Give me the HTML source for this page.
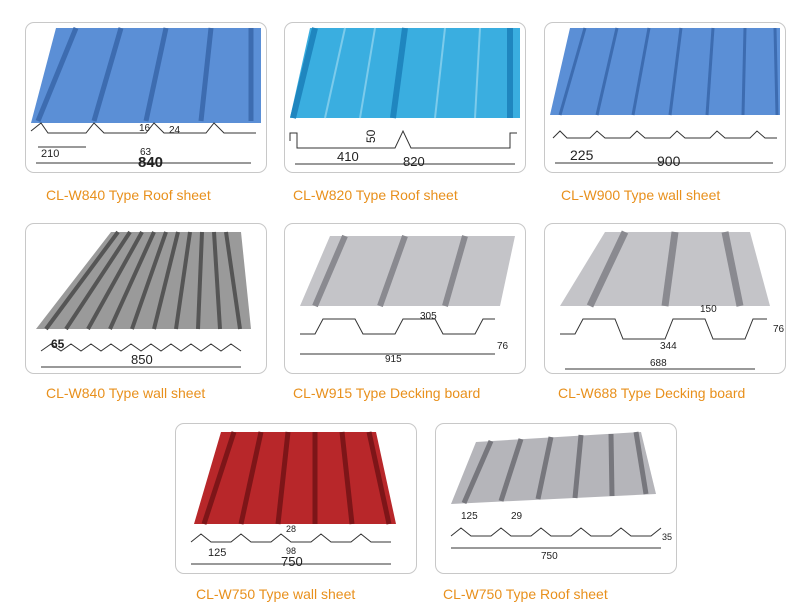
<!DOCTYPE html>
<html><head><meta charset="utf-8"><style>
body{margin:0;width:800px;height:609px;background:#fff;position:relative;overflow:hidden;font-family:"Liberation Sans",sans-serif}
.b{position:absolute;width:240px;height:149px;border:1px solid #c8c8c8;border-radius:9px;background:#fff;overflow:hidden}
.b svg{position:absolute;left:0;top:0}
.c{position:absolute;font-size:14px;color:#e8901c;white-space:nowrap}
</style></head><body>
<defs></defs>
<!-- Row1 -->
<div class="b" style="left:25px;top:22px"><svg width="240" height="149">
<polygon points="30,5 235,5 235,100 5,100" fill="#5b8fd6"/>
<g stroke="#3d6cb0" stroke-width="5"><line x1="50" y1="5" x2="12" y2="98"/><line x1="95" y1="5" x2="68" y2="98"/><line x1="140" y1="5" x2="120" y2="98"/><line x1="185" y1="5" x2="175" y2="98"/><line x1="225" y1="5" x2="225" y2="98"/></g>
<polyline points="5,108 15,100 22,110 60,110 68,100 78,110 120,110 128,100 138,110 180,110 188,100 198,110 230,110" fill="none" stroke="#333"/>
<line x1="10" y1="140" x2="225" y2="140" stroke="#333"/><line x1="12" y1="124" x2="60" y2="124" stroke="#333"/>
<text x="15" y="134" font-size="11" fill="#222">210</text><text x="112" y="144" font-size="15" font-weight="bold" fill="#222">840</text>
<text x="113" y="108" font-size="10" fill="#222">16</text><text x="114" y="132" font-size="10" fill="#222">63</text><text x="143" y="110" font-size="10" fill="#222">24</text>
</svg></div>
<div class="c" style="left:46px;top:187px">CL-W840 Type Roof sheet</div>

<div class="b" style="left:284px;top:22px"><svg width="240" height="149">
<polygon points="25,5 235,5 235,95 5,95" fill="#3aaee0"/>
<g stroke="#1f86bf" stroke-width="6"><line x1="30" y1="5" x2="8" y2="95"/><line x1="120" y1="5" x2="108" y2="95"/><line x1="225" y1="5" x2="225" y2="95"/></g>
<g stroke="#7ccbeb" stroke-width="2"><line x1="60" y1="5" x2="40" y2="95"/><line x1="90" y1="5" x2="75" y2="95"/><line x1="160" y1="5" x2="150" y2="95"/><line x1="195" y1="5" x2="190" y2="95"/></g>
<polyline points="5,118 5,110 12,110 12,125 110,125 118,108 126,125 225,125 225,110 232,110" fill="none" stroke="#333"/>
<line x1="10" y1="141" x2="230" y2="141" stroke="#333"/>
<text x="52" y="138" font-size="13" fill="#222">410</text><text x="118" y="143" font-size="13" fill="#222">820</text><text x="90" y="120" font-size="12" fill="#222" transform="rotate(-90 90 120)">50</text>
</svg></div>
<div class="c" style="left:293px;top:187px">CL-W820 Type Roof sheet</div>

<div class="b" style="left:544px;top:22px"><svg width="240" height="149">
<polygon points="25,5 235,5 235,92 5,92" fill="#5b8fd6"/>
<g stroke="#3d6cb0" stroke-width="3"><line x1="40" y1="5" x2="15" y2="92"/><line x1="72" y1="5" x2="52" y2="92"/><line x1="104" y1="5" x2="88" y2="92"/><line x1="136" y1="5" x2="125" y2="92"/><line x1="168" y1="5" x2="162" y2="92"/><line x1="200" y1="5" x2="198" y2="92"/><line x1="230" y1="5" x2="232" y2="92"/></g>
<polyline points="8,115 15,108 22,115 45,115 52,108 60,115 85,115 92,108 100,115 125,115 132,108 140,115 165,115 172,108 180,115 205,115 212,108 220,115 232,115" fill="none" stroke="#333"/>
<line x1="10" y1="140" x2="228" y2="140" stroke="#333"/><text x="25" y="137" font-size="14" fill="#222">225</text><text x="112" y="143" font-size="14" fill="#222">900</text>
</svg></div>
<div class="c" style="left:561px;top:187px">CL-W900 Type wall sheet</div>

<!-- Row2 -->
<div class="b" style="left:25px;top:223px"><svg width="240" height="149">
<polygon points="85,8 215,8 225,105 10,105" fill="#9a9a9a"/>
<g stroke="#555" stroke-width="4"><line x1="92" y1="8" x2="20" y2="105"/><line x1="104" y1="8" x2="40" y2="105"/><line x1="116" y1="8" x2="62" y2="105"/><line x1="128" y1="8" x2="84" y2="105"/><line x1="140" y1="8" x2="106" y2="105"/><line x1="152" y1="8" x2="128" y2="105"/><line x1="164" y1="8" x2="150" y2="105"/><line x1="176" y1="8" x2="172" y2="105"/><line x1="188" y1="8" x2="194" y2="105"/><line x1="200" y1="8" x2="214" y2="105"/></g>
<polyline points="15,127 25,120 35,127 45,120 55,127 65,120 75,127 85,120 95,127 105,120 115,127 125,120 135,127 145,120 155,127 165,120 175,127 185,120 195,127 205,120 215,127" fill="none" stroke="#333"/>
<line x1="15" y1="143" x2="215" y2="143" stroke="#333"/><text x="25" y="124" font-size="12" font-weight="bold" fill="#222">65</text><text x="105" y="140" font-size="13" fill="#222">850</text>
</svg></div>
<div class="c" style="left:46px;top:385px">CL-W840 Type wall sheet</div>

<div class="b" style="left:284px;top:223px"><svg width="240" height="149">
<polygon points="45,12 230,12 215,82 15,82" fill="#c4c4c8"/>
<g stroke="#8a8a90" stroke-width="6"><line x1="60" y1="12" x2="30" y2="82"/><line x1="120" y1="12" x2="95" y2="82"/><line x1="180" y1="12" x2="160" y2="82"/></g>
<polyline points="15,110 30,110 38,95 70,95 78,110 110,110 118,95 150,95 158,110 190,110 198,95 210,95" fill="none" stroke="#333"/>
<line x1="15" y1="130" x2="210" y2="130" stroke="#333"/><text x="100" y="138" font-size="10" fill="#222">915</text><text x="135" y="95" font-size="10" fill="#222">305</text><text x="212" y="125" font-size="10" fill="#222">76</text>
</svg></div>
<div class="c" style="left:293px;top:385px">CL-W915 Type Decking board</div>

<div class="b" style="left:544px;top:223px"><svg width="240" height="149">
<polygon points="60,8 205,8 225,82 15,82" fill="#c4c4c8"/>
<g stroke="#8a8a90" stroke-width="7"><line x1="80" y1="8" x2="45" y2="82"/><line x1="130" y1="8" x2="120" y2="82"/><line x1="180" y1="8" x2="195" y2="82"/></g>
<polyline points="15,110 30,110 38,95 70,95 78,115 120,115 128,95 160,95 168,115 200,115 208,95 222,95" fill="none" stroke="#333"/>
<line x1="20" y1="145" x2="210" y2="145" stroke="#333"/><text x="105" y="142" font-size="10" fill="#222">688</text><text x="115" y="125" font-size="10" fill="#222">344</text><text x="155" y="88" font-size="10" fill="#222">150</text><text x="228" y="108" font-size="10" fill="#222">76</text>
</svg></div>
<div class="c" style="left:558px;top:385px">CL-W688 Type Decking board</div>

<!-- Row3 -->
<div class="b" style="left:175px;top:423px"><svg width="240" height="149">
<polygon points="45,8 200,8 220,100 18,100" fill="#b8272a"/>
<g stroke="#7d1518" stroke-width="5"><line x1="58" y1="8" x2="28" y2="100"/><line x1="85" y1="8" x2="65" y2="100"/><line x1="112" y1="8" x2="102" y2="100"/><line x1="139" y1="8" x2="139" y2="100"/><line x1="166" y1="8" x2="176" y2="100"/><line x1="193" y1="8" x2="213" y2="100"/></g>
<polyline points="15,118 25,110 35,118 55,118 65,110 75,118 95,118 105,110 115,118 135,118 145,110 155,118 175,118 185,110 195,118 215,118" fill="none" stroke="#333"/>
<line x1="15" y1="140" x2="215" y2="140" stroke="#333"/><text x="32" y="132" font-size="11" fill="#222">125</text><text x="105" y="142" font-size="13" fill="#222">750</text><text x="110" y="108" font-size="9" fill="#222">28</text><text x="110" y="130" font-size="9" fill="#222">98</text>
</svg></div>
<div class="c" style="left:196px;top:586px">CL-W750 Type wall sheet</div>

<div class="b" style="left:435px;top:423px"><svg width="240" height="149">
<polygon points="40,18 205,8 220,70 15,80" fill="#b5b5ba"/>
<g stroke="#77777d" stroke-width="5"><line x1="55" y1="17" x2="28" y2="79"/><line x1="85" y1="15" x2="65" y2="77"/><line x1="115" y1="13" x2="102" y2="75"/><line x1="145" y1="11" x2="139" y2="74"/><line x1="175" y1="10" x2="176" y2="72"/><line x1="200" y1="8" x2="210" y2="70"/></g>
<polyline points="15,112 25,104 35,112 55,112 65,104 75,112 95,112 105,104 115,112 135,112 145,104 155,112 175,112 185,104 195,112 215,112 225,104" fill="none" stroke="#333"/>
<line x1="15" y1="124" x2="225" y2="124" stroke="#333"/><text x="25" y="95" font-size="10" fill="#222">125</text><text x="75" y="95" font-size="10" fill="#222">29</text><text x="105" y="135" font-size="10" fill="#222">750</text><text x="226" y="116" font-size="9" fill="#222">35</text>
</svg></div>
<div class="c" style="left:443px;top:586px">CL-W750 Type Roof sheet</div>
</body></html>
